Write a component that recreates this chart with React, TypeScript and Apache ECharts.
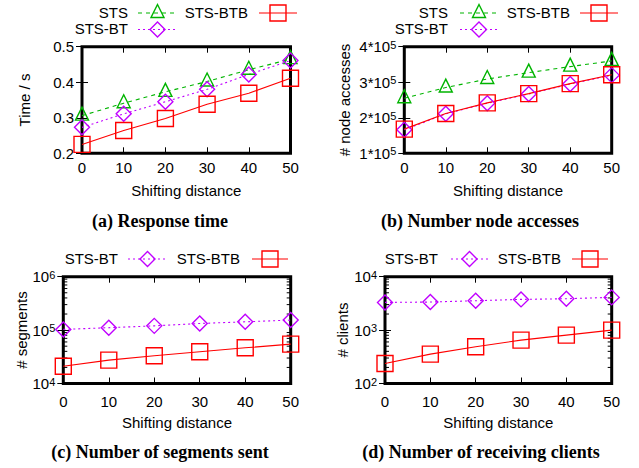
import React, { useEffect, useRef } from "react";
import * as echarts from "echarts";

// ---------------- data ----------------
const shiftingDistance = [0, 10, 20, 30, 40, 50];

const responseSTS = [0.306, 0.341, 0.373, 0.402, 0.435, 0.465];
const responseSTSBT = [0.273, 0.311, 0.345, 0.38, 0.422, 0.461];
const responseSTSBTB = [0.225, 0.264, 0.298, 0.338, 0.369, 0.411];

const nodeSTS = [2.55e5, 2.85e5, 3.09e5, 3.27e5, 3.44e5, 3.6e5];
const nodeSTSBT = [1.66e5, 2.11e5, 2.41e5, 2.67e5, 2.95e5, 3.2e5];
const nodeSTSBTB = [1.68e5, 2.12e5, 2.42e5, 2.68e5, 2.96e5, 3.21e5];

const segmentsSTSBT = [1.03e5, 1.11e5, 1.2e5, 1.33e5, 1.43e5, 1.54e5];
const segmentsSTSBTB = [2.11e4, 2.74e4, 3.3e4, 3.93e4, 4.66e4, 5.47e4];

const clientsSTSBT = [3300, 3350, 3550, 3760, 3870, 4100];
const clientsSTSBTB = [237, 355, 487, 649, 806, 1000];

const seriesNames = ["STS", "STS-BT", "STS-BTB"];
const captions = [
  "(a) Response time",
  "(b) Number node accesses",
  "(c) Number of segments sent",
  "(d) Number of receiving clients",
];
const yNames = ["Time / s", "# node accesses", "# segments", "# clients"];
const xName = "Shifting distance";

// ---------------- styling ----------------
const FONT = '"Liberation Sans", Arial, Helvetica, sans-serif';
const SERIF = '"Liberation Serif", "Times New Roman", serif';
const FS = 15;
const GREEN = "#00b400";
const PURPLE = "#c000ff";
const RED = "#ff0000";

const styles: Record<string, any> = {
  STS: { color: GREEN, dash: [4, 4], symbol: "triangle", size: [13, 13], offset: [0, -2] },
  "STS-BT": { color: PURPLE, dash: [2, 3], symbol: "diamond", size: [15, 15], offset: [0, 0] },
  "STS-BTB": { color: RED, dash: "solid", symbol: "rect", size: [16, 16], offset: [0, 0] },
};

const panels = [
  {
    grid: { left: 82, top: 46.7, width: 208.5, height: 106.6 },
    yType: "value", min: 0.2, max: 0.5, interval: 0.1,
    fmt: (v: number) => v.toFixed(1),
    nameGap: 50, xLabelMargin: 7, xNameGap: 30,
    series: [[seriesNames[0], responseSTS], [seriesNames[1], responseSTSBT], [seriesNames[2], responseSTSBTB]],
    legend: [
      [seriesNames[0], 128, 12, 138, 177],
      [seriesNames[2], 248, 12, 259, 297],
      [seriesNames[1], 128, 28.5, 138, 177],
    ],
    caption: [160, 221],
  },
  {
    grid: { left: 404.3, top: 46.7, width: 207.4, height: 106.6 },
    yType: "value", min: 1e5, max: 4e5, interval: 1e5,
    fmt: (v: number) => `{n|${Math.round(v / 1e5)}*10}{s|5}`,
    nameGap: 52, xLabelMargin: 7, xNameGap: 30,
    series: [[seriesNames[0], nodeSTS], [seriesNames[1], nodeSTSBT], [seriesNames[2], nodeSTSBTB]],
    legend: [
      [seriesNames[0], 448, 12, 460, 498],
      [seriesNames[2], 570, 12, 580, 618],
      [seriesNames[1], 448, 28.5, 460, 498],
    ],
    caption: [480, 221],
  },
  {
    grid: { left: 63.3, top: 276.7, width: 227.4, height: 106.8 },
    yType: "log", min: 1e4, max: 1e6,
    fmt: (v: number) => `{n|10}{s|${Math.round(Math.log10(v))}}`,
    nameGap: 33, xLabelMargin: 10, xNameGap: 31,
    series: [[seriesNames[1], segmentsSTSBT], [seriesNames[2], segmentsSTSBTB]],
    legend: [
      [seriesNames[1], 118, 258, 128, 167],
      [seriesNames[2], 240, 258, 252, 288],
    ],
    caption: [160, 452],
  },
  {
    grid: { left: 385, top: 276.7, width: 226.7, height: 106.8 },
    yType: "log", min: 1e2, max: 1e4,
    fmt: (v: number) => `{n|10}{s|${Math.round(Math.log10(v))}}`,
    nameGap: 35, xLabelMargin: 10, xNameGap: 31,
    series: [[seriesNames[1], clientsSTSBT], [seriesNames[2], clientsSTSBTB]],
    legend: [
      [seriesNames[1], 438, 258, 451, 488],
      [seriesNames[2], 561, 258, 572, 608],
    ],
    caption: [481, 452],
  },
];

const tickStyle = { show: true, inside: true, length: 6, lineStyle: { color: "#000", width: 1 } };
const rich = {
  n: { fontSize: FS, fontFamily: FONT, color: "#000", lineHeight: 15, verticalAlign: "middle" },
  s: { fontSize: 11, fontFamily: FONT, color: "#000", lineHeight: 11, verticalAlign: "top", padding: [0, 0, 12, 0] },
};

function buildOption() {
  const grid: any[] = [];
  const xAxis: any[] = [];
  const yAxis: any[] = [];
  const series: any[] = [];
  panels.forEach((p, i) => {
    grid.push({ ...p.grid, show: true, borderColor: "#000", borderWidth: 3, backgroundColor: "transparent", containLabel: false });
    const xBase = {
      type: "value", gridIndex: i, min: 0, max: 50, interval: 10,
      axisLine: { show: false }, splitLine: { show: false }, axisTick: tickStyle,
    };
    xAxis.push({
      ...xBase, position: "bottom",
      name: xName, nameLocation: "middle", nameGap: p.xNameGap,
      nameTextStyle: { fontSize: FS, fontFamily: FONT, color: "#000" },
      axisLabel: { show: true, margin: p.xLabelMargin, fontSize: FS, fontFamily: FONT, color: "#000" },
    });
    xAxis.push({ ...xBase, position: "top", axisLabel: { show: false } });
    const yBase: any = {
      type: p.yType, gridIndex: i, min: p.min, max: p.max,
      axisLine: { show: false }, splitLine: { show: false }, axisTick: tickStyle,
    };
    if (p.yType === "log") yBase.logBase = 10;
    else yBase.interval = p.interval;
    const isRich = i > 0;
    yAxis.push({
      ...yBase, position: "left",
      name: yNames[i], nameLocation: "middle", nameGap: p.nameGap, nameRotate: 90,
      nameTextStyle: { fontSize: FS, fontFamily: FONT, color: "#000" },
      axisLabel: {
        show: true, margin: 8, fontSize: FS, fontFamily: FONT, color: "#000",
        formatter: p.fmt, ...(isRich ? { rich } : {}),
      },
    });
    yAxis.push({ ...yBase, position: "right", axisLabel: { show: false } });
    p.series.forEach(([name, values]: any) => {
      const st = styles[name];
      series.push({
        type: "line", name, xAxisIndex: 2 * i, yAxisIndex: 2 * i,
        data: shiftingDistance.map((x, k) => [x, values[k]]),
        symbol: st.symbol, symbolSize: st.size, symbolOffset: st.offset,
        showAllSymbol: true, clip: false, silent: true,
        itemStyle: { color: "rgba(0,0,0,0)", borderColor: st.color, borderWidth: 1.4 },
        lineStyle: { color: st.color, width: 1.1, type: st.dash },
        emphasis: { disabled: true },
        z: 3,
      });
    });
  });
  return {
    animation: false,
    backgroundColor: "#fff",
    textStyle: { fontFamily: FONT },
    grid, xAxis, yAxis, series,
  };
}

function legendSymbol(sym: string, cx: number, cy: number, color: string): any {
  const style = { fill: "none", stroke: color, lineWidth: 1.4 };
  if (sym === "triangle") {
    return { type: "polygon", shape: { points: [[cx, cy - 8.5], [cx + 6.5, cy + 4.5], [cx - 6.5, cy + 4.5]] }, style };
  }
  if (sym === "diamond") {
    return { type: "polygon", shape: { points: [[cx, cy - 7.5], [cx + 7.5, cy], [cx, cy + 7.5], [cx - 7.5, cy]] }, style };
  }
  return { type: "rect", shape: { x: cx - 8, y: cy - 8, width: 16, height: 16 }, style };
}

function buildGraphics(chart: any) {
  const els: any[] = [];
  panels.forEach((p, i) => {
    p.legend.forEach(([name, textRight, y, x0, x1]: any) => {
      const st = styles[name];
      els.push({
        type: "text", x: textRight, y,
        style: { text: name, fill: "#000", font: `${FS}px ${FONT}`, lineHeight: 15, align: "right", textAlign: "right", verticalAlign: "middle", textVerticalAlign: "middle" },
      });
      els.push({
        type: "line", shape: { x1: x0, y1: y + 1, x2: x1, y2: y + 1 },
        style: { stroke: st.color, lineWidth: 1.1, lineDash: st.dash === "solid" ? null : st.dash },
      });
      els.push(legendSymbol(st.symbol, (x0 + x1) / 2, y + 1, st.color));
    });
    els.push({
      type: "text", x: p.caption[0], y: p.caption[1],
      style: { text: captions[i], fill: "#000", font: `bold 18px ${SERIF}`, align: "center", textAlign: "center", verticalAlign: "middle", textVerticalAlign: "middle" },
    });
    // minor ticks for log axes
    if (p.yType === "log") {
      const lo = Math.round(Math.log10(p.min));
      const hi = Math.round(Math.log10(p.max));
      const left = p.grid.left;
      const right = p.grid.left + p.grid.width;
      for (let k = lo; k < hi; k++) {
        for (let m = 2; m <= 9; m++) {
          const v = m * Math.pow(10, k);
          const py = chart.convertToPixel({ yAxisIndex: 2 * i }, v);
          if (typeof py !== "number" || isNaN(py)) continue;
          els.push({ type: "line", shape: { x1: left, y1: py, x2: left + 4, y2: py }, style: { stroke: "#000", lineWidth: 1 } });
          els.push({ type: "line", shape: { x1: right - 4, y1: py, x2: right, y2: py }, style: { stroke: "#000", lineWidth: 1 } });
        }
      }
    }
  });
  return els;
}

export default function App() {
  const ref = useRef<HTMLDivElement>(null);
  useEffect(() => {
    if (!ref.current) return;
    const chart = echarts.init(ref.current, undefined, { renderer: "svg" });
    chart.setOption(buildOption() as any);
    chart.setOption({ graphic: { elements: buildGraphics(chart) } } as any);
    return () => chart.dispose();
  }, []);
  return (
    <div
      ref={ref}
      style={{ position: "absolute", left: 0, top: 0, width: 639, height: 468, background: "#fff" }}
    />
  );
}
